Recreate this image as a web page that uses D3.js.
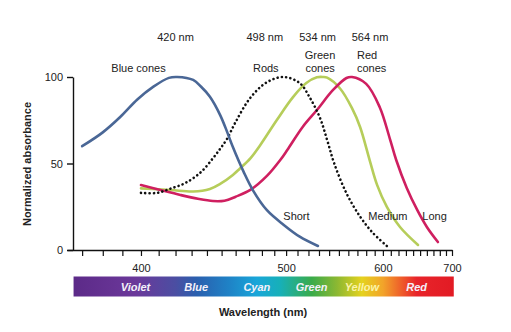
<!DOCTYPE html>
<html>
<head>
<meta charset="utf-8">
<script src="https://cdn.jsdelivr.net/npm/d3@7"></script>
<style>
  body { margin: 0; background: #fff; }
  text { font-family: "Liberation Sans", Arial, sans-serif; }
</style>
</head>
<body>
<svg id="chart" width="511" height="332"></svg>
<script>
// Absorbance spectra of the four photoreceptor types (wavelength in nm, normalized absorbance)
const blueNm  = [370, 380, 389, 398, 407, 416, 421, 431, 436, 442, 449, 454, 458, 466, 473, 484, 498, 512, 529];
const blueVal = [60, 68, 77, 87, 94.4, 99.5, 100, 98.3, 94.5, 88.6, 78, 68, 59.5, 45, 34.5, 23, 14.5, 7.7, 2.3];

const rodNm  = [400, 409, 417, 426, 436, 444, 449, 454, 460, 471, 484, 498, 512, 521, 531, 538, 545, 558, 573, 588, 605];
const rodVal = [33, 33, 35.5, 38.7, 45, 53, 58.5, 64.5, 74, 88, 97, 100, 96.5, 88.4, 76.3, 63.6, 50.3, 32.8, 19.3, 9.8, 2.3];

const greenNm  = [400, 417, 431, 442, 449, 458, 463, 471, 479, 492, 506, 518, 528, 534, 538, 551, 564, 573, 584, 593, 605, 622, 647];
const greenVal = [35.6, 34.7, 33.8, 35.3, 38.2, 43.4, 47, 53, 61, 75, 88.4, 96.5, 99.8, 100, 99.6, 93.5, 82, 71.1, 52, 37.5, 24.9, 13.3, 2.9];

const redNm  = [400, 411, 423, 434, 444, 452, 460, 471, 484, 495, 501, 515, 528, 544, 558, 564, 580, 596, 609, 617, 631, 646, 660, 677];
const redVal = [37.6, 34.7, 31.8, 29.6, 28.3, 28.5, 30.8, 34.7, 42.8, 52, 57.8, 71.4, 80.9, 92.5, 99.4, 100, 96, 82.7, 64, 52, 36, 23, 13.3, 4.6];

// Peak wavelengths and curve names
const peakNm = [420, 498, 534, 564];
const curveNames = [["Blue cones"], ["Rods"], ["Green", "cones"], ["Red", "cones"]];
const sensitivityNames = ["Short", "Medium", "Long"];

// Axis ticks
const xTickNm = d3.range(370, 701, 10);
const xLabelNm = [400, 500, 600, 700];
const yTicks = [0, 50, 100];

// Visible spectrum strip
const bandNm = [366, 397, 420, 433, 455, 476, 495, 523, 548, 575, 600, 625, 645, 703];
const bandColor = ["#5c2a88", "#6b389a", "#4b4ea2", "#2a5fae", "#1f82c6", "#19a6d9", "#17b0b8",
                   "#3aab4a", "#8cb832", "#e5d21e", "#f2a42a", "#ee5a2a", "#e8242a", "#e21b24"];
const bandLabels = ["Violet", "Blue", "Cyan", "Green", "Yellow", "Red"];
const bandLabelNm = [397, 433, 476, 523, 575, 645];

const svg = d3.select("#chart");

// Wavelength axis is linear in wavenumber (1/λ)
const x = d3.scalePow().exponent(-1).domain([363, 700]).range([67, 452]);
const y = d3.scaleLinear().domain([0, 100]).range([250, 77]);

// Y axis
const yAxis = d3.axisLeft(y).tickValues(yTicks).tickSize(6).tickPadding(4).tickSizeOuter(0);
const gy = svg.append("g").attr("transform", "translate(73,0)").call(yAxis);
gy.select(".domain").attr("stroke", "#111").attr("stroke-width", 1.4);
gy.selectAll(".tick line").attr("stroke", "#111").attr("stroke-width", 1.4);
gy.selectAll(".tick text").attr("font-size", 11).attr("fill", "#222")
  .style("font-family", "'Liberation Sans', Arial, sans-serif");

// X axis
const xAxis = d3.axisBottom(x).tickValues(xTickNm).tickSize(6).tickPadding(8.5).tickSizeOuter(0)
  .tickFormat(d => xLabelNm.includes(d) ? d : "");
const gx = svg.append("g").attr("transform", "translate(0,250)").call(xAxis);
gx.select(".domain").attr("stroke", "#111").attr("stroke-width", 1.4);
gx.selectAll(".tick line").attr("stroke", "#111").attr("stroke-width", 1.2);
gx.selectAll(".tick text").attr("font-size", 11).attr("fill", "#222")
  .style("font-family", "'Liberation Sans', Arial, sans-serif");

// Axis titles
svg.append("text")
  .attr("transform", "translate(31,164) rotate(-90)")
  .attr("text-anchor", "middle")
  .attr("font-size", 11).attr("font-weight", "bold").attr("fill", "#222")
  .text("Normalized absorbance");

svg.append("text")
  .attr("x", 263).attr("y", 316)
  .attr("text-anchor", "middle")
  .attr("font-size", 11).attr("font-weight", "bold").attr("fill", "#222")
  .text("Wavelength (nm)");

// Curves
const line = d3.line()
  .x(d => x(d[0]))
  .y(d => y(d[1]))
  .curve(d3.curveCatmullRom.alpha(0.5));

const zip = (a, b) => a.map((v, i) => [v, b[i]]);

const curves = [
  { pts: zip(greenNm, greenVal), color: "#b6cd5a", width: 2.6 },
  { pts: zip(redNm, redVal), color: "#cf1f60", width: 2.6 },
  { pts: zip(rodNm, rodVal), color: "#111", width: 2.6, dash: "0.1 4.2" },
  { pts: zip(blueNm, blueVal), color: "#4a6796", width: 2.6 }
];

svg.append("g").selectAll("path")
  .data(curves)
  .join("path")
  .attr("d", d => line(d.pts))
  .attr("fill", "none")
  .attr("stroke", d => d.color)
  .attr("stroke-width", d => d.width)
  .attr("stroke-linecap", "round")
  .attr("stroke-dasharray", d => d.dash || null);

// Peak wavelength labels above each curve name
const peakDx = [0, -19, -5.5, 18];
svg.append("g").selectAll("text")
  .data(peakNm)
  .join("text")
  .attr("x", (d, i) => x(d) + peakDx[i])
  .attr("y", 40.5)
  .attr("text-anchor", "middle")
  .attr("font-size", 11).attr("fill", "#222")
  .text(d => `${d} nm`);

// Curve names
const nameDx = [-37, -18, -3, 5];
const nameAnchor = ["middle", "middle", "middle", "start"];
curveNames.forEach((lines, i) => {
  const t = svg.append("text")
    .attr("font-size", 11).attr("fill", "#222")
    .attr("text-anchor", nameAnchor[i]);
  lines.forEach((s, j) => {
    t.append("tspan")
      .attr("x", x(peakNm[i]) + nameDx[i])
      .attr("y", 72 - (lines.length - 1 - j) * 12.6)
      .text(s);
  });
});

// Short / Medium / Long labels
const sensX = [283.3, 368.3, 422.3];
svg.append("g").selectAll("text")
  .data(sensitivityNames)
  .join("text")
  .attr("x", (d, i) => sensX[i])
  .attr("y", 220)
  .attr("font-size", 11).attr("fill", "#222")
  .text(d => d);

// Spectrum strip
const x0 = x(bandNm[0]), x1 = x(bandNm[bandNm.length - 1]);
const grad = svg.append("defs").append("linearGradient")
  .attr("id", "spectrum")
  .attr("gradientUnits", "userSpaceOnUse")
  .attr("x1", x0).attr("x2", x1).attr("y1", 0).attr("y2", 0);
grad.selectAll("stop")
  .data(bandNm)
  .join("stop")
  .attr("offset", d => (x(d) - x0) / (x1 - x0))
  .attr("stop-color", (d, i) => bandColor[i]);

svg.append("rect")
  .attr("x", x0).attr("y", 276.5)
  .attr("width", x1 - x0).attr("height", 20)
  .attr("fill", "url(#spectrum)");

svg.append("g").selectAll("text")
  .data(bandLabels)
  .join("text")
  .attr("x", (d, i) => x(bandLabelNm[i]))
  .attr("y", 290.5)
  .attr("text-anchor", "middle")
  .attr("font-size", 11).attr("font-weight", "bold").attr("font-style", "italic")
  .attr("fill", (d, i) => d === "Yellow" ? "#fbf3a8" : "#f4f1fa")
  .text(d => d);
</script>
</body>
</html>
